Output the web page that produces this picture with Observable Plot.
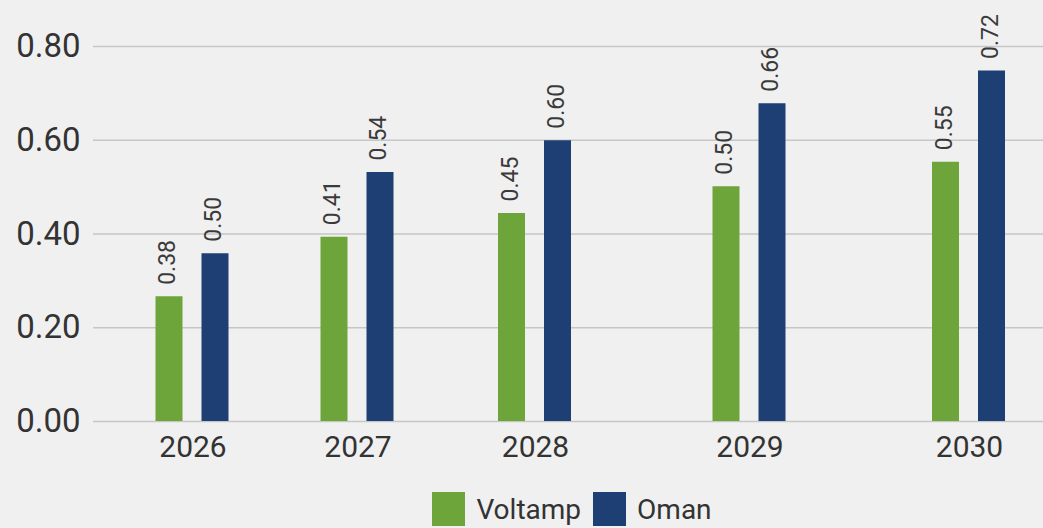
<!DOCTYPE html>
<html>
<head>
<meta charset="utf-8">
<script src="https://cdn.jsdelivr.net/npm/d3@7"></script>
<script src="https://cdn.jsdelivr.net/npm/@observablehq/plot@0.6"></script>
<style>
  html, body { margin: 0; padding: 0; background: #f0f0f0; }
  body { width: 1043px; height: 528px; overflow: hidden; font-family: Roboto, sans-serif; }
  .legend { display: flex; justify-content: center; align-items: center; margin-left: 113px; margin-top: 17px; color: #333; font-size: 28px; }
  .legend .sw { width: 33px; height: 34px; display: inline-block; }
  .legend .lb { margin-left: 11px; margin-right: 12px; }
</style>
</head>
<body>
<div id="chart"></div>
<div class="legend" id="legend"></div>
<script>
const years = [2026, 2027, 2028, 2029, 2030];
const seriesNames = ["Voltamp", "Oman"];
const seriesColors = ["#6ea53b", "#1e3f74"];
// bar heights as drawn
const voltampBar = [0.266, 0.393, 0.444, 0.501, 0.553];
const omanBar = [0.358, 0.531, 0.599, 0.678, 0.748];
// value labels as printed
const voltampLabel = ["0.38", "0.41", "0.45", "0.50", "0.55"];
const omanLabel = ["0.50", "0.54", "0.60", "0.66", "0.72"];
const yTicks = [0, 0.2, 0.4, 0.6, 0.8];

const voltamp = years.map((y, i) => ({year: y, bar: voltampBar[i], label: voltampLabel[i]}));
const oman = years.map((y, i) => ({year: y, bar: omanBar[i], label: omanLabel[i]}));

const chart = Plot.plot({
  width: 1043,
  height: 475,
  marginLeft: 93,
  marginRight: 0,
  marginTop: 46,
  marginBottom: 54,
  style: {background: "#f0f0f0", fontFamily: "Roboto, sans-serif", color: "#333", overflow: "visible"},
  x: {type: "linear", domain: years, range: [192.5, 357.5, 535, 749.5, 969]},
  y: {domain: [0, 0.8]},
  marks: [
    Plot.ruleY(yTicks, {stroke: "#c6c6c6", strokeWidth: 1.5}),
    Plot.axisY({ticks: yTicks, tickFormat: d3.format(".2f"), tickSize: 0, tickPadding: 13, fontSize: 33, fill: "#333", label: null}),
    Plot.axisX({ticks: years, tickFormat: d => String(d), tickSize: 0, tickPadding: 14, fontSize: 30, fill: "#333", label: null}),
    Plot.ruleX(voltamp, {x: "year", y1: 0, y2: "bar", stroke: seriesColors[0], strokeWidth: 27, dx: -24}),
    Plot.ruleX(oman, {x: "year", y1: 0, y2: "bar", stroke: seriesColors[1], strokeWidth: 27, dx: 22}),
    Plot.text(voltamp, {x: "year", y: "bar", text: "label", rotate: -90, textAnchor: "start", dx: -25, dy: -12, fontSize: 23, fill: "#3a3a3a"}),
    Plot.text(oman, {x: "year", y: "bar", text: "label", rotate: -90, textAnchor: "start", dx: 21, dy: -12, fontSize: 23, fill: "#3a3a3a"})
  ]
});
document.getElementById("chart").appendChild(chart);

const legend = document.getElementById("legend");
seriesNames.forEach((name, i) => {
  const sw = document.createElement("span");
  sw.className = "sw";
  sw.style.background = seriesColors[i];
  const lb = document.createElement("span");
  lb.className = "lb";
  lb.textContent = name;
  legend.appendChild(sw);
  legend.appendChild(lb);
});
</script>
</body>
</html>
